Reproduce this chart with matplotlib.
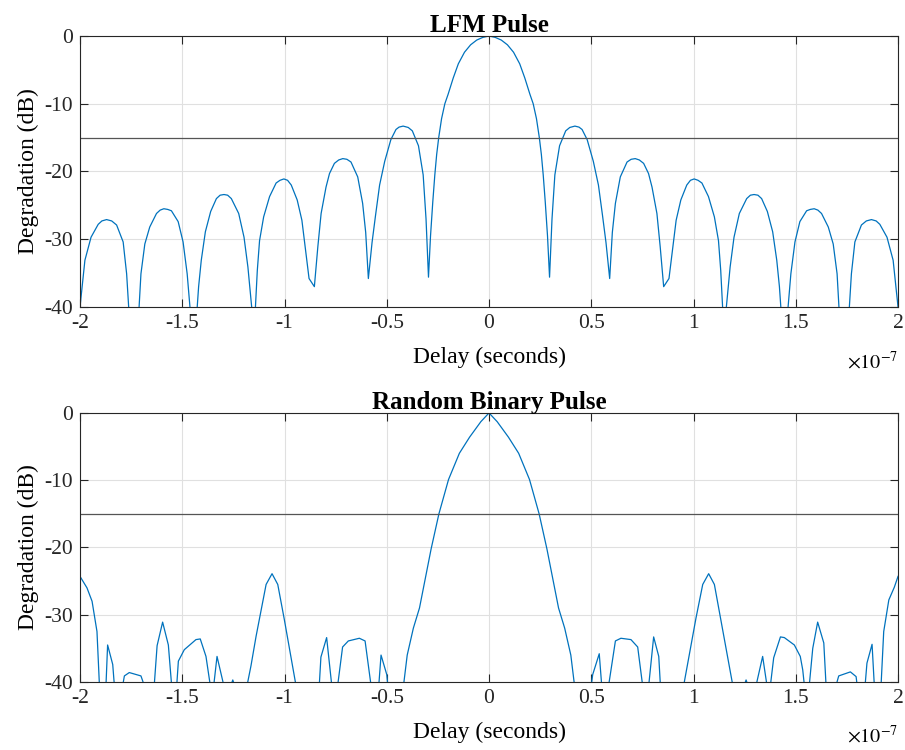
import numpy as np
from matplotlib import pyplot as plt

plt.rcParams['font.family'] = ['Liberation Serif', 'DejaVu Serif']
plt.rcParams['mathtext.fontset'] = 'stix'
plt.rcParams['axes.unicode_minus'] = False

# Zero-Doppler cut of the LFM pulse (delay in units of 1e-7 s, level in dB)
lfm_delay = [
    -2.000, -1.976, -1.946, -1.911, -1.893, -1.870, -1.845, -1.821, -1.789, -1.772,
    -1.761, -1.737, -1.712, -1.702, -1.683, -1.659, -1.626, -1.608, -1.590, -1.571, -1.553, -1.520, -1.496, -1.476,
    -1.461, -1.445, -1.428, -1.420, -1.407, -1.387, -1.361, -1.333, -1.315, -1.296, -1.278, -1.260, -1.224, -1.198, -1.179,
    -1.159, -1.151, -1.143, -1.133, -1.122, -1.102, -1.073, -1.041, -1.022, -1.003, -0.985, -0.967, -0.938, -0.915, -0.899,
    -0.880, -0.854, -0.837, -0.821, -0.797, -0.780, -0.756, -0.735, -0.715, -0.695, -0.675, -0.642, -0.618, -0.603,
    -0.590, -0.572, -0.555, -0.535, -0.510, -0.480, -0.455, -0.440, -0.420, -0.395, -0.375, -0.345, -0.322, -0.308,
    -0.296, -0.286, -0.275, -0.265, -0.256, -0.246, -0.232, -0.216, -0.200, -0.175, -0.150, -0.120, -0.090, -0.060, -0.030,
    0.000,
    0.030, 0.060, 0.090, 0.120, 0.150, 0.175, 0.200, 0.216, 0.232, 0.246, 0.256, 0.265, 0.275, 0.286, 0.296,
    0.308, 0.322, 0.345, 0.375, 0.395, 0.420, 0.440, 0.455, 0.480, 0.510, 0.535, 0.555, 0.572, 0.590,
    0.603, 0.618, 0.642, 0.675, 0.695, 0.715, 0.735, 0.756, 0.780, 0.797, 0.821, 0.837, 0.854, 0.880,
    0.899, 0.915, 0.938, 0.967, 0.985, 1.003, 1.022, 1.041, 1.073, 1.102, 1.122, 1.133, 1.143, 1.151, 1.159,
    1.179, 1.198, 1.224, 1.260, 1.278, 1.296, 1.315, 1.333, 1.361, 1.387, 1.407, 1.420, 1.428, 1.445, 1.461,
    1.476, 1.496, 1.520, 1.553, 1.571, 1.590, 1.608, 1.626, 1.659, 1.683, 1.702, 1.712, 1.737, 1.761,
    1.772, 1.789, 1.821, 1.845, 1.870, 1.893, 1.911, 1.946, 1.976, 2.000,
]
lfm_db = [
    -40.0, -33.1, -29.7, -27.8, -27.3, -27.1, -27.3, -27.9, -30.4, -35.1,
    -40.5, -50.0, -40.5, -35.1, -30.7, -28.2, -26.2, -25.7, -25.5, -25.6, -25.8, -27.4, -30.4, -35.1,
    -40.5, -50.0, -40.5, -37.0, -33.1, -28.9, -25.9, -24.0, -23.5, -23.4, -23.5, -24.0, -26.2, -29.7, -34.1,
    -40.5, -50.0, -40.5, -34.6, -30.2, -26.7, -23.7, -21.7, -21.3, -21.1, -21.3, -22.0, -24.2, -27.2, -31.1,
    -35.8, -37.0, -31.1, -26.2, -22.3, -20.3, -18.8, -18.3, -18.1, -18.2, -18.6, -20.8, -24.7, -29.0,
    -35.8, -30.5, -26.5, -22.0, -18.5, -15.3, -13.8, -13.45, -13.3, -13.5, -14.0, -16.2, -20.5, -27.0,
    -35.6, -29.5, -24.5, -20.5, -17.5, -15.0, -12.2, -10.0, -8.6, -6.2, -4.1, -2.4, -1.3, -0.6, -0.2,
    0.0,
    -0.2, -0.6, -1.3, -2.4, -4.1, -6.2, -8.6, -10.0, -12.2, -15.0, -17.5, -20.5, -24.5, -29.5, -35.6,
    -27.0, -20.5, -16.2, -14.0, -13.5, -13.3, -13.45, -13.8, -15.3, -18.5, -22.0, -26.5, -30.5, -35.8,
    -29.0, -24.7, -20.8, -18.6, -18.2, -18.1, -18.3, -18.8, -20.3, -22.3, -26.2, -31.1, -37.0, -35.8,
    -31.1, -27.2, -24.2, -22.0, -21.3, -21.1, -21.3, -21.7, -23.7, -26.7, -30.2, -34.6, -40.5, -50.0, -40.5,
    -34.1, -29.7, -26.2, -24.0, -23.5, -23.4, -23.5, -24.0, -25.9, -28.9, -33.1, -37.0, -40.5, -50.0, -40.5,
    -35.1, -30.4, -27.4, -25.8, -25.6, -25.5, -25.7, -26.2, -28.2, -30.7, -35.1, -40.5, -50.0, -40.5,
    -35.1, -30.4, -27.9, -27.3, -27.1, -27.3, -27.8, -29.7, -33.1, -40.0,
]

# Zero-Doppler cut of the random binary (phase coded) pulse
rb_delay = [
    -2.000, -1.966, -1.941, -1.917, -1.905, -1.889, -1.873, -1.865, -1.840, -1.832, -1.811,
    -1.791, -1.783, -1.759, -1.702, -1.686, -1.660, -1.637, -1.623, -1.596, -1.568, -1.552,
    -1.540, -1.527, -1.519, -1.490, -1.433, -1.412, -1.384, -1.363, -1.355, -1.346, -1.330,
    -1.297, -1.275, -1.262, -1.253, -1.244, -1.215, -1.183, -1.164, -1.139, -1.090, -1.061,
    -1.033, -1.001, -0.944, -0.890, -0.830, -0.822, -0.794, -0.769, -0.755, -0.740, -0.716,
    -0.688, -0.634, -0.606, -0.577, -0.558, -0.539, -0.528, -0.500, -0.495, -0.460, -0.418,
    -0.400, -0.370, -0.340, -0.283, -0.245, -0.198, -0.145, -0.095, -0.040,
    0.000,
    0.040, 0.095, 0.145, 0.198, 0.245, 0.283, 0.340, 0.370, 0.400, 0.418, 0.460,
    0.500, 0.507, 0.539, 0.551, 0.568, 0.585, 0.618, 0.645, 0.694, 0.727, 0.751, 0.766,
    0.781, 0.805, 0.830, 0.838, 0.895, 0.952, 1.012, 1.045, 1.074, 1.102, 1.192, 1.225,
    1.248, 1.257, 1.266, 1.285, 1.306, 1.338, 1.359, 1.368, 1.376, 1.392, 1.425, 1.444,
    1.493, 1.522, 1.534, 1.542, 1.554, 1.566, 1.583, 1.607, 1.637, 1.648, 1.672, 1.697,
    1.710, 1.729, 1.767, 1.795, 1.800, 1.820, 1.839, 1.848, 1.873, 1.884, 1.900, 1.917,
    1.930, 1.955, 1.982, 2.000,
]
rb_db = [
    -24.3, -26.0, -28.0, -32.5, -40.5, -55.0, -40.5, -34.5, -37.4, -40.5, -55.0,
    -40.5, -39.1, -38.6, -39.1, -40.5, -55.0, -40.5, -34.6, -31.1, -34.5, -40.5,
    -55.0, -40.5, -36.9, -35.2, -33.7, -33.6, -36.2, -40.5, -55.0, -40.5, -36.2,
    -40.5, -55.0, -40.5, -39.7, -40.5, -55.0, -40.5, -37.6, -33.2, -25.5, -23.9,
    -25.5, -30.7, -40.5, -55.0, -40.5, -36.3, -33.4, -40.5, -55.0, -40.5, -34.8,
    -33.9, -33.5, -33.9, -40.5, -55.0, -40.5, -36.0, -38.9, -40.5, -55.0, -40.5,
    -36.0, -32.0, -29.0, -20.2, -15.0, -9.9, -6.0, -3.6, -1.3,
    0.0,
    -1.3, -3.6, -6.0, -9.9, -15.0, -20.2, -29.0, -32.0, -36.0, -40.5, -55.0,
    -40.5, -38.9, -35.8, -40.5, -55.0, -40.5, -33.9, -33.5, -33.7, -34.8, -40.5, -55.0,
    -40.5, -33.3, -36.2, -40.5, -55.0, -40.5, -30.5, -25.5, -23.9, -25.5, -40.5, -55.0,
    -40.5, -39.7, -40.5, -55.0, -40.5, -36.2, -40.5, -55.0, -40.5, -36.4, -33.3, -33.4,
    -34.5, -36.2, -38.2, -40.5, -55.0, -40.5, -35.0, -31.1, -34.2, -40.5, -55.0, -40.5,
    -39.1, -38.9, -38.5, -39.2, -40.5, -55.0, -40.5, -37.2, -34.4, -40.5, -55.0, -40.5,
    -32.5, -27.8, -25.9, -24.3,
]

threshold_db = -15
titles = ['LFM Pulse', 'Random Binary Pulse']
x_ticks = [-2, -1.5, -1, -0.5, 0, 0.5, 1, 1.5, 2]
y_ticks = [-40, -30, -20, -10, 0]

fig = plt.figure(figsize=(9.05, 7.5), dpi=100)
ax_top = fig.add_axes([0.0884, 0.5907, 0.9039, 0.3613])
ax_bot = fig.add_axes([0.0884, 0.0907, 0.9039, 0.3587])

series = [(lfm_delay, lfm_db), (rb_delay, rb_db)]
for ax, (delay, level), title in zip([ax_top, ax_bot], series, titles):
    ax.plot(delay, level, color='#0072BD', lw=0.9)
    ax.axhline(threshold_db, color='#555555', lw=0.9)

    ax.set_xlim(-2, 2)
    ax.set_ylim(-40, 0)
    ax.set_xticks(x_ticks)
    ax.set_yticks(y_ticks)
    ax.set_xticklabels(['%g' % t for t in x_ticks])
    ax.set_yticklabels(['%g' % t for t in y_ticks])
    ax.grid(True, color='#e0e0e0', lw=0.8)
    ax.set_axisbelow(True)
    ax.tick_params(direction='in', length=5.5, width=0.8, top=True, right=True,
                   labelsize=15.5, pad=5, colors='#262626')
    for s in ax.spines.values():
        s.set_color('#262626')
        s.set_linewidth(0.8)

    ax.set_title(title, fontsize=18, fontweight='bold', pad=3)
    ax.set_xlabel('Delay (seconds)', fontsize=17, labelpad=10)
    ax.set_ylabel('Degradation (dB)', fontsize=17, labelpad=4)
    # exponent of the delay axis, placed under its right end
    ax.text(1.0, -0.163, r'$\times10^{-7}$', transform=ax.transAxes,
            ha='right', va='top', fontsize=14.5)

fig.savefig('out.png', dpi=100)
